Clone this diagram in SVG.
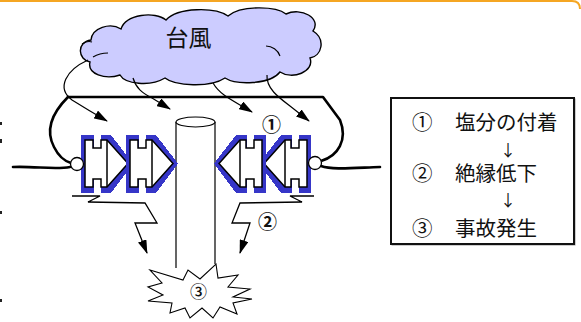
<svg xmlns="http://www.w3.org/2000/svg" width="581" height="322" viewBox="0 0 581 322">
  <style>
    .jp { font-family: "Noto Sans CJK JP", "Noto Sans", sans-serif; fill: #111; }
    .wire { fill: none; stroke: #000; stroke-width: 2.6; stroke-linecap: round; stroke-linejoin: round; }
    .flow { fill: none; stroke: #000; stroke-width: 1.2; }
    .thin { fill: none; stroke: #000; stroke-width: 1.3; stroke-linejoin: miter; }
    .halo { fill: #3636c8; shape-rendering: crispEdges; }
    .body { fill: #fff; stroke: #000; stroke-width: 1.5; stroke-linejoin: miter; }
    .gap { fill: #fff; shape-rendering: crispEdges; }
  </style>
  <defs>
    <marker id="head" viewBox="0 0 14 9" refX="13" refY="4.5" markerWidth="14" markerHeight="9" markerUnits="userSpaceOnUse" orient="auto">
      <path d="M0,0 L14,4.5 L0,9 Z" fill="#000"/>
    </marker>
    <!-- one insulator disc, pointing right, origin at the body's left edge -->
    <g id="unit">
      <path class="halo" d="M-4,135 H26 L48,163.5 L26,193 H-4 Z"/>
      <rect class="gap" x="8.5" y="134" width="7" height="14"/>
      <rect class="gap" x="8.5" y="179" width="7" height="15"/>
      <path class="body" d="M0,140 H8 V148 H16 V140 H22 L43,163.5 L22,187 H16 V179 H8 V187 H0 Z"/>
      <line x1="22" y1="140" x2="22" y2="187" stroke="#000" stroke-width="1.5"/>
    </g>
  </defs>

  <rect width="581" height="322" fill="#fff"/>
  <!-- frame edge -->
  <path d="M0,1 H572 Q580,1 580,9" fill="none" stroke="#f5a623" stroke-width="2"/>
  <g fill="#222">
    <rect x="0" y="122" width="2" height="3"/>
    <rect x="0" y="139" width="2" height="4"/>
    <rect x="0" y="211" width="2" height="3"/>
    <rect x="0" y="299" width="2" height="3"/>
  </g>

  <!-- typhoon cloud -->
  <g id="cloud">
    <path d="M90,62 C78,60 76,42 91,40 C92,28 110,22 121,29 C126,14 155,11 166,20 C178,7 215,7 228,16 C241,5 276,6 286,14 C301,7 322,18 313,31 C326,39 322,56 310,58 C315,72 292,80 280,72 C270,85 236,85 225,78 C210,88 175,86 165,78 C150,87 125,84 120,75 C105,80 87,74 90,62 Z" fill="#ccccff" stroke="#000" stroke-width="1.4"/>
    <path d="M82,44 C85,42 89,41 92,42" fill="none" stroke="#000" stroke-width="1.1"/>
    <path d="M93,57 C98,54 104,53 108,53" fill="none" stroke="#000" stroke-width="1.1"/>
    <path d="M266,46 C272,46 278,50 280,56" fill="none" stroke="#000" stroke-width="1.1"/>
    <text class="jp" x="188.5" y="46" font-size="23" text-anchor="middle">台風</text>
  </g>

  <!-- utility pole -->
  <g id="pole">
    <rect x="176" y="122" width="39" height="142" fill="#fff"/>
    <path d="M176,122 V268 M215,122 V264" fill="none" stroke="#000" stroke-width="1.2"/>
    <ellipse cx="195.5" cy="122" rx="19.5" ry="5" fill="#fff" stroke="#000" stroke-width="1.2"/>
  </g>

  <!-- insulator strings -->
  <g id="insulators-left">
    <use href="#unit" x="85" y="0"/>
    <use href="#unit" x="130" y="0"/>
  </g>
  <g id="insulators-right" transform="translate(392,0) scale(-1,1)">
    <use href="#unit" x="85" y="0"/>
    <use href="#unit" x="130" y="0"/>
  </g>

  <g id="connectors">
    <!-- overhead line and jumpers -->
    <path class="wire" d="M68,97 H323 L340,120 C348,140 338,156 321,161"/>
    <path class="wire" d="M68,97 C55,110 44,128 54,147 C59,157 64,161 71,163"/>
    <path class="wire" d="M13,167 C35,166 55,170 70,167"/>
    <path class="wire" d="M321,166 C332,170 352,168 380,167"/>
    <circle cx="77" cy="164" r="6.5" fill="#fff" stroke="#000" stroke-width="1.3"/>
    <circle cx="315" cy="163" r="6.5" fill="#fff" stroke="#000" stroke-width="1.3"/>
    <!-- salt spray from the cloud -->
    <path class="flow" d="M88,60 C66,70 56,88 72,100 Q88,110 107,121" marker-end="url(#head)"/>
    <path class="flow" d="M133,78 C136,88 142,93 152,98 L170,109" marker-end="url(#head)"/>
    <path class="flow" d="M213,83 C220,95 232,100 252,112" marker-end="url(#head)"/>
    <path class="flow" d="M267,75 C266,88 278,97 290,106 L309,121" marker-end="url(#head)"/>
    <!-- flashover paths -->
    <path class="thin" d="M72,196 H100 L88,202 L145,203 L157,223 L135,223 L147,253" marker-end="url(#head)"/>
    <path class="thin" d="M314,196 H290 L302,202 L240,203 L232,223 L250,223 L240,253" marker-end="url(#head)"/>
  </g>

  <!-- fault burst -->
  <g id="burst">
    <path d="M150,270 L183,280 L188,270 L200,279 L216,264 L218,278 L238,275 L228,287 L250,289 L233,297 L252,299 L233,303 L237,314 L220,307 L213,318 L202,308 L190,318 L185,308 L170,313 L172,303 L148,301 L163,295 L148,287 L162,283 Z" fill="#fff" stroke="#000" stroke-width="1.1" stroke-linejoin="miter"/>
    <text class="jp" x="198.5" y="298" font-size="17" font-weight="500" text-anchor="middle">③</text>
  </g>

  <g id="labels">
    <text class="jp" x="271.5" y="132" font-size="19" font-weight="bold" text-anchor="middle">①</text>
    <text class="jp" x="267.5" y="229" font-size="19" font-weight="bold" text-anchor="middle">②</text>
  </g>

  <!-- sequence legend -->
  <g id="legend">
    <rect x="392" y="99" width="183" height="146" fill="none" stroke="#999" stroke-width="1"/>
    <rect x="391" y="98" width="183" height="146" fill="#fff" stroke="#111" stroke-width="2"/>
    <text class="jp" font-size="20.5" x="412" y="130">①</text>
    <text class="jp" font-size="20.5" x="455" y="130">塩分の付着</text>
    <text class="jp" font-size="16" x="508" y="156" text-anchor="middle">↓</text>
    <text class="jp" font-size="20.5" x="412" y="181">②</text>
    <text class="jp" font-size="20.5" x="455" y="181">絶縁低下</text>
    <text class="jp" font-size="16" x="508" y="206" text-anchor="middle">↓</text>
    <text class="jp" font-size="20.5" x="412" y="236">③</text>
    <text class="jp" font-size="20.5" x="455" y="236">事故発生</text>
  </g>
</svg>
